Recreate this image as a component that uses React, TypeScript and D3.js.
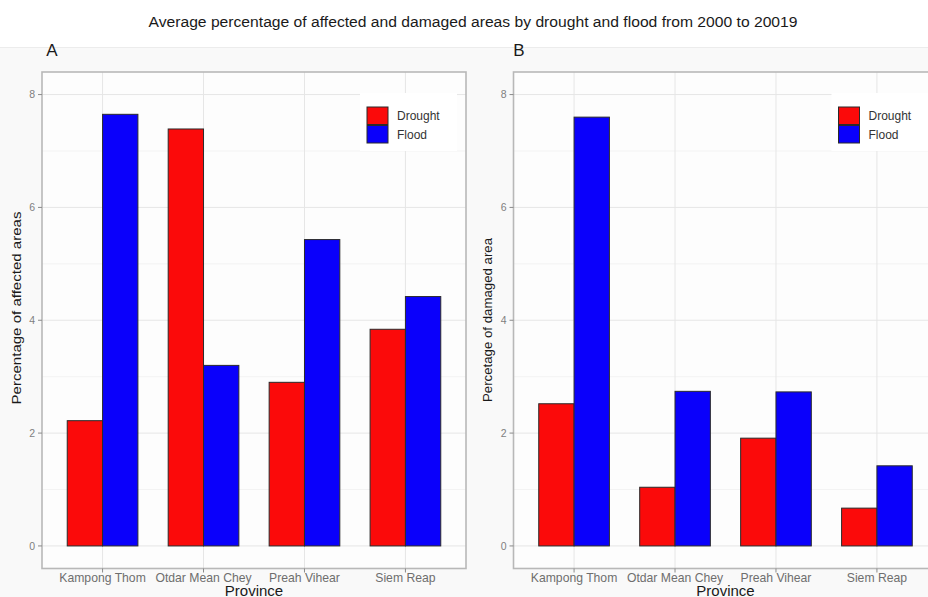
import React from "react";
import * as d3 from "d3";

// Provinces and series
const provinces = ["Kampong Thom", "Otdar Mean Chey", "Preah Vihear", "Siem Reap"];
const hazards = ["Drought", "Flood"];
const hazardColors = ["#fb0a0a", "#0a00fb"];

// Panel A: percentage of affected areas
const affectedDrought = [2.22, 7.39, 2.9, 3.84];
const affectedFlood = [7.65, 3.2, 5.43, 4.42];

// Panel B: percentage of damaged area
const damagedDrought = [2.52, 1.04, 1.91, 0.67];
const damagedFlood = [7.6, 2.74, 2.73, 1.42];

const yMajorTicks = [0, 2, 4, 6, 8];
const yMinorTicks = [1, 3, 5, 7];

const title =
  "Average percentage of affected and damaged areas by drought and flood from 2000 to 20019";

const W = 928;
const H = 597;
const FONT = "'Liberation Sans', Arial, Helvetica, sans-serif";

type PanelProps = {
  left: number;
  tag: string;
  tagX: number;
  yTitle: string;
  yTitleCenter: number;
  yTitleLen: number;
  yTitleX: number;
  drought: number[];
  flood: number[];
};

const PANEL_W = 424;
const TOP = 72;
const BOTTOM = 568.5;

function Panel({ left, tag, tagX, yTitle, yTitleCenter, yTitleLen, yTitleX, drought, flood }: PanelProps) {
  const y = d3.scaleLinear().domain([-0.4, 8.4]).range([BOTTOM, TOP]);
  const x = d3
    .scaleBand<string>()
    .domain(provinces)
    .range([left, left + PANEL_W])
    .paddingInner(0.3)
    .paddingOuter(0.25);
  const xs = d3.scaleBand<string>().domain(hazards).range([0, x.bandwidth()]);
  const center = (p: string) => (x(p) as number) + x.bandwidth() / 2;
  const series = [drought, flood];

  const legendX = left + 325;
  const legendY = 107;

  return (
    <g>
      <text x={tagX} y={55.5} fontSize={17} fontFamily={FONT} fill="#1a1a1a" textAnchor="middle">
        {tag}
      </text>
      <rect x={left} y={TOP} width={PANEL_W} height={BOTTOM - TOP} fill="#fdfdfd" />
      {yMinorTicks.map((t) => (
        <line key={"mn" + t} x1={left} x2={left + PANEL_W} y1={y(t)} y2={y(t)} stroke="#f0f0f0" strokeWidth={0.8} />
      ))}
      {yMajorTicks.map((t) => (
        <line key={"mj" + t} x1={left} x2={left + PANEL_W} y1={y(t)} y2={y(t)} stroke="#e6e6e6" strokeWidth={1} />
      ))}
      {provinces.map((p) => (
        <line key={"vx" + p} x1={center(p)} x2={center(p)} y1={TOP} y2={BOTTOM} stroke="#e6e6e6" strokeWidth={1} />
      ))}
      {provinces.map((p, i) =>
        hazards.map((h, j) => {
          const v = series[j][i];
          return (
            <rect
              key={p + h}
              x={(x(p) as number) + (xs(h) as number)}
              y={y(v)}
              width={xs.bandwidth()}
              height={y(0) - y(v)}
              fill={hazardColors[j]}
              stroke="#2a2a2a"
              strokeWidth={1}
            />
          );
        })
      )}
      <rect x={left} y={TOP} width={PANEL_W} height={BOTTOM - TOP} fill="none" stroke="#b8b8b8" strokeWidth={1.6} />
      {yMajorTicks.map((t) => (
        <g key={"yt" + t}>
          <line x1={left - 4} x2={left} y1={y(t)} y2={y(t)} stroke="#8a8a8a" strokeWidth={1} />
          <text x={left - 7} y={y(t)} dy="0.35em" fontSize={10.5} fontFamily={FONT} fill="#7f7f7f" textAnchor="end">
            {t}
          </text>
        </g>
      ))}
      {provinces.map((p) => (
        <g key={"xt" + p}>
          <line x1={center(p)} x2={center(p)} y1={BOTTOM} y2={BOTTOM + 4} stroke="#8a8a8a" strokeWidth={1} />
          <text x={center(p)} y={582} fontSize={12.2} fontFamily={FONT} fill="#6e6e6e" textAnchor="middle">
            {p}
          </text>
        </g>
      ))}
      <text x={left + PANEL_W / 2} y={595.5} fontSize={15} fontFamily={FONT} fill="#1a1a1a" textAnchor="middle">
        Province
      </text>
      <text
        transform={`translate(${yTitleX},${yTitleCenter}) rotate(-90)`}
        fontSize={13}
        fontFamily={FONT}
        fill="#1a1a1a"
        textAnchor="middle"
        textLength={yTitleLen}
        lengthAdjust="spacingAndGlyphs"
      >
        {yTitle}
      </text>
      <rect x={legendX - 7} y={93} width={97} height={58} fill="#ffffff" />
      {hazards.map((h, j) => (
        <g key={"lg" + h}>
          <rect
            x={legendX}
            y={legendY + j * 18.5}
            width={21}
            height={17.5}
            fill={hazardColors[j]}
            stroke="#2a2a2a"
            strokeWidth={1}
          />
          <text
            x={legendX + 30}
            y={legendY + j * 18.5 + 9}
            dy="0.35em"
            fontSize={12}
            fontFamily={FONT}
            fill="#333333"
          >
            {h}
          </text>
        </g>
      ))}
    </g>
  );
}

export default function App() {
  return (
    <svg
      width={W}
      height={H}
      viewBox={`0 0 ${W} ${H}`}
      style={{ position: "fixed", left: 0, top: 0, background: "#ffffff" }}
    >
      <rect x={0} y={47} width={W} height={H - 47} fill="#f9f9f9" />
      <line x1={0} x2={W} y1={47.5} y2={47.5} stroke="#ececec" strokeWidth={1} />
      <text
        x={473}
        y={27}
        fontSize={15.5}
        fontFamily={FONT}
        fill="#1a1a1a"
        textAnchor="middle"
        textLength={649}
        lengthAdjust="spacingAndGlyphs"
      >
        {title}
      </text>
      <Panel
        left={42}
        tag="A"
        tagX={52}
        yTitle="Percentage of affected areas"
        yTitleCenter={308}
        yTitleLen={193}
        yTitleX={21}
        drought={affectedDrought}
        flood={affectedFlood}
      />
      <Panel
        left={513.5}
        tag="B"
        tagX={519}
        yTitle="Percetage of damaged area"
        yTitleCenter={320}
        yTitleLen={164}
        yTitleX={492}
        drought={damagedDrought}
        flood={damagedFlood}
      />
    </svg>
  );
}
